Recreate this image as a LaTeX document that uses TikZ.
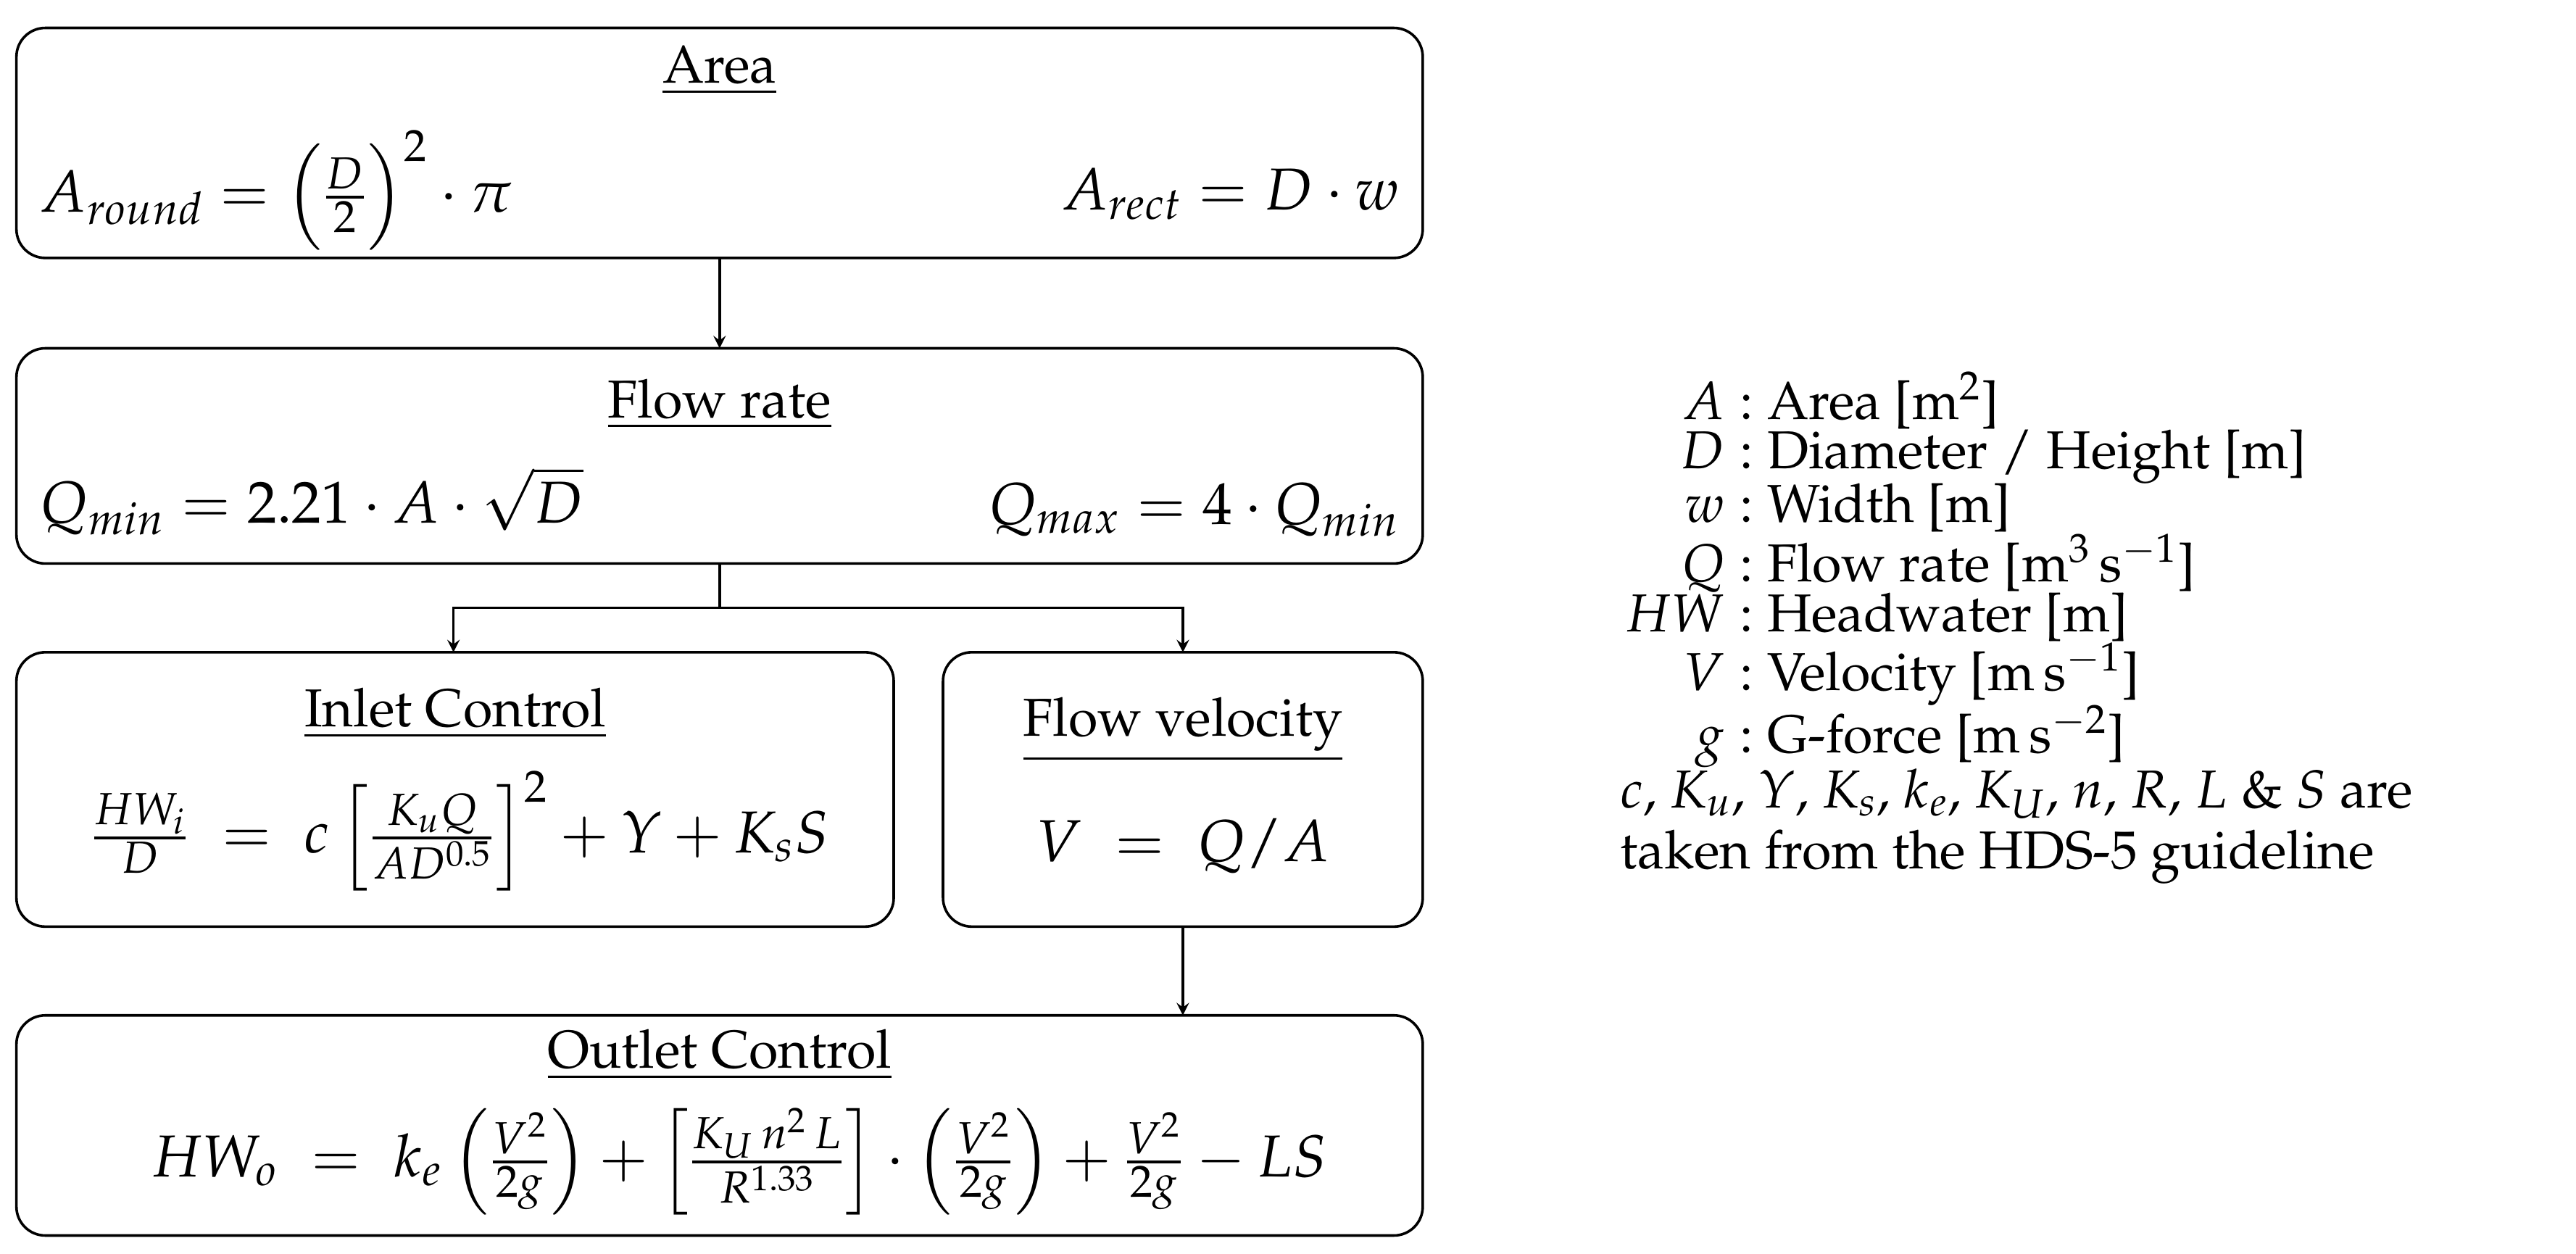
\documentclass[tikz,border=0pt]{standalone}
\usepackage[T1]{fontenc}
\usepackage{mathpazo}
\usepackage{amsmath}
\usepackage{siunitx}
\begin{document}
\begin{tikzpicture}[x=0.02cm,y=-0.02cm,
  box/.style={draw,line width=0.9pt,rounded corners=10pt,inner sep=0},
  arr/.style={-stealth,line width=0.9pt},
  every node/.style={font=\fontsize{18.5}{21}\selectfont},
  big/.style={font=\fontsize{20.5}{24}\selectfont}]
\useasboundingbox (0,0) rectangle (1568,763);
% boxes
\draw[box] (10,17) rectangle (866,157);
\draw[box] (10,212) rectangle (866,343);
\draw[box] (10,397) rectangle (544,564);
\draw[box] (574,397) rectangle (866,564);
\draw[box] (10,618) rectangle (866,752);
\coordinate (aB) at (438,157); \coordinate (fT) at (438,212);
\coordinate (fB) at (438,343); \coordinate (j) at (438,370);
\coordinate (iT) at (276,397); \coordinate (vT) at (720,397);
\coordinate (vB) at (720,564); \coordinate (oT) at (720,618);
\draw[arr] (aB) -- (fT);
\draw[line width=0.9pt] (fB) -- (j);
\draw[arr] (j) -| (iT);
\draw[arr] (j) -| (vT);
\draw[arr] (vB) -- (oT);
% texts
\node (t1) at (438,43) {\underline{Area}};
\node[anchor=west,big] (a1) at (18,116) {$A_{round}=\left(\frac{D}{2}\right)^2\cdot\pi$};
\node[anchor=east,big] (a2) at (858,118) {$A_{rect}=D\cdot w$};
\node (t2) at (438,246) {\underline{Flow rate}};
\node[anchor=west,big] (q1) at (18,305) {$Q_{min}=2.21\cdot A\cdot\sqrt{D}$};
\node[anchor=east,big] (q2) at (858,310) {$Q_{max}=4\cdot Q_{min}$};
\node (t3) at (277,434) {\underline{Inlet Control}};
\node[big] (i1) at (280,506) {$\frac{HW_i}{D}\;=\;c\left[\frac{K_uQ}{AD^{0.5}}\right]^2+Y+K_sS$};
\node (t4) at (720,444) {\underline{Flow velocity}};
\node[big] (v1) at (720,515) {$V\;=\;Q/A$};
\node (t5) at (438,642) {\underline{Outlet Control}};
\node[big] (o1) at (450,707) {$HW_o\;=\;k_e\left(\frac{V^2}{2g}\right)+\left[\frac{K_U\,n^2\,L}{R^{1.33}}\right]\cdot\left(\frac{V^2}{2g}\right)+\frac{V^2}{2g}-LS$};
% legend
\node[anchor=north west,inner sep=0] (leg) at (980,226) {%
\renewcommand{\arraystretch}{0.62}%
$\begin{array}{r@{\;:\ }l}
A & \text{Area [\si{m^2}]}\\
D & \text{Diameter / Height [m]}\\
w & \text{Width [m]}\\
Q & \text{Flow rate [\si{m^3.s^{-1}}]}\\
HW & \text{Headwater [m]}\\
V & \text{Velocity [\si{m.s^{-1}}]}\\
g & \text{G-force [\si{m.s^{-2}}]}
\end{array}$};
\node[anchor=west,align=left,inner sep=0] (note) at (986,503) {$c$,\ $K_u$,\ $Y$,\ $K_s$,\ $k_e$,\ $K_U$,\ $n$,\ $R$,\ $L$ \& $S$ are\\taken from the HDS-5 guideline};
\end{tikzpicture}
\end{document}
